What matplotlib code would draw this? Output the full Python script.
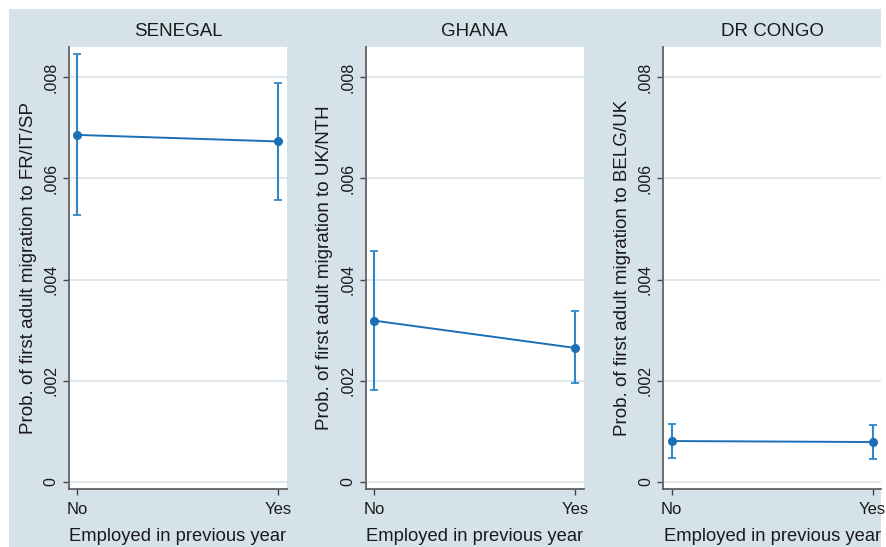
import matplotlib
matplotlib.use("Agg")
import matplotlib.pyplot as plt
from matplotlib.patches import Rectangle

# Predicted probability of first adult migration, by employment status
countries = ["SENEGAL", "GHANA", "DR CONGO"]
destinations = ["FR/IT/SP", "UK/NTH", "BELG/UK"]
employed = ["No", "Yes"]

senegal_est = [0.00686, 0.00673]
senegal_lo = [0.00528, 0.00557]
senegal_hi = [0.00845, 0.00789]

ghana_est = [0.00319, 0.00265]
ghana_lo = [0.00182, 0.00196]
ghana_hi = [0.00457, 0.00337]

congo_est = [0.00081, 0.00079]
congo_lo = [0.00047, 0.00045]
congo_hi = [0.00115, 0.00113]

yticks = [0, 0.002, 0.004, 0.006, 0.008]
ytick_labels = ["0", ".002", ".004", ".006", ".008"]

estimates = [senegal_est, ghana_est, congo_est]
lowers = [senegal_lo, ghana_lo, congo_lo]
uppers = [senegal_hi, ghana_hi, congo_hi]

plt.rcParams["font.family"] = ["Liberation Sans", "DejaVu Sans"]

W, H = 886, 547
BG = "#d6e2ea"
LINE = "#1a6fb5"
BAR = "#3088c8"
GRID = "#dbe5ed"
TXT = "#1a1a1a"

fig = plt.figure(figsize=(W / 100, H / 100), dpi=100, facecolor="white")
fig.patches.append(Rectangle((9 / W, 0), (881 - 9) / W, (H - 9) / H,
                             transform=fig.transFigure, facecolor=BG,
                             edgecolor="none", zorder=-10))

lefts = [69, 365.7, 663.3]
ax_w = 218
ax_top, ax_bot = 46.7, 489

for i, left in enumerate(lefts):
    ax = fig.add_axes([left / W, (H - ax_bot) / H, ax_w / W, (ax_bot - ax_top) / H])
    ax.set_facecolor("white")
    x = list(range(len(employed)))
    est = estimates[i]
    lo = lowers[i]
    hi = uppers[i]
    yerr = [[e - l for e, l in zip(est, lo)], [h - e for e, h in zip(est, hi)]]
    ax.errorbar(x, est, yerr=yerr, fmt="none", ecolor=BAR, elinewidth=1.5,
                capsize=3, capthick=1.3, zorder=3)
    ax.plot(x, est, color=LINE, lw=1.4, marker="o", markersize=5.5,
            markerfacecolor=LINE, markeredgecolor=LINE, zorder=4)

    ax.set_xlim(-0.041, 1.043)
    ax.set_ylim(-0.000138, 0.008603)
    ax.set_xticks(x)
    ax.set_xticklabels(employed)
    ax.set_yticks(yticks)
    ax.set_yticklabels(ytick_labels, rotation=90, va="center")

    ax.grid(axis="y", color=GRID, lw=1.3)
    ax.set_axisbelow(True)

    for s in ["top", "right"]:
        ax.spines[s].set_visible(False)
    ax.spines["left"].set_color("#6b6b6b")
    ax.spines["left"].set_linewidth(1.4)
    ax.spines["bottom"].set_color("#555555")
    ax.spines["bottom"].set_linewidth(1.2)

    ax.tick_params(axis="both", direction="out", length=4.5, width=1,
                   color="#444444", labelcolor=TXT)
    ax.tick_params(axis="y", pad=3, labelsize=11.5)
    ax.tick_params(axis="x", pad=5, labelsize=12)

    ax.set_title(countries[i], fontsize=13.5, color=TXT, pad=8)
    ax.set_xlabel("Employed in previous year", fontsize=13.2, color=TXT, labelpad=8)
    ax.set_ylabel("Prob. of first adult migration to " + destinations[i],
                  fontsize=13.5, color=TXT, labelpad=5)

fig.savefig("out.png", dpi=100, facecolor="white")
